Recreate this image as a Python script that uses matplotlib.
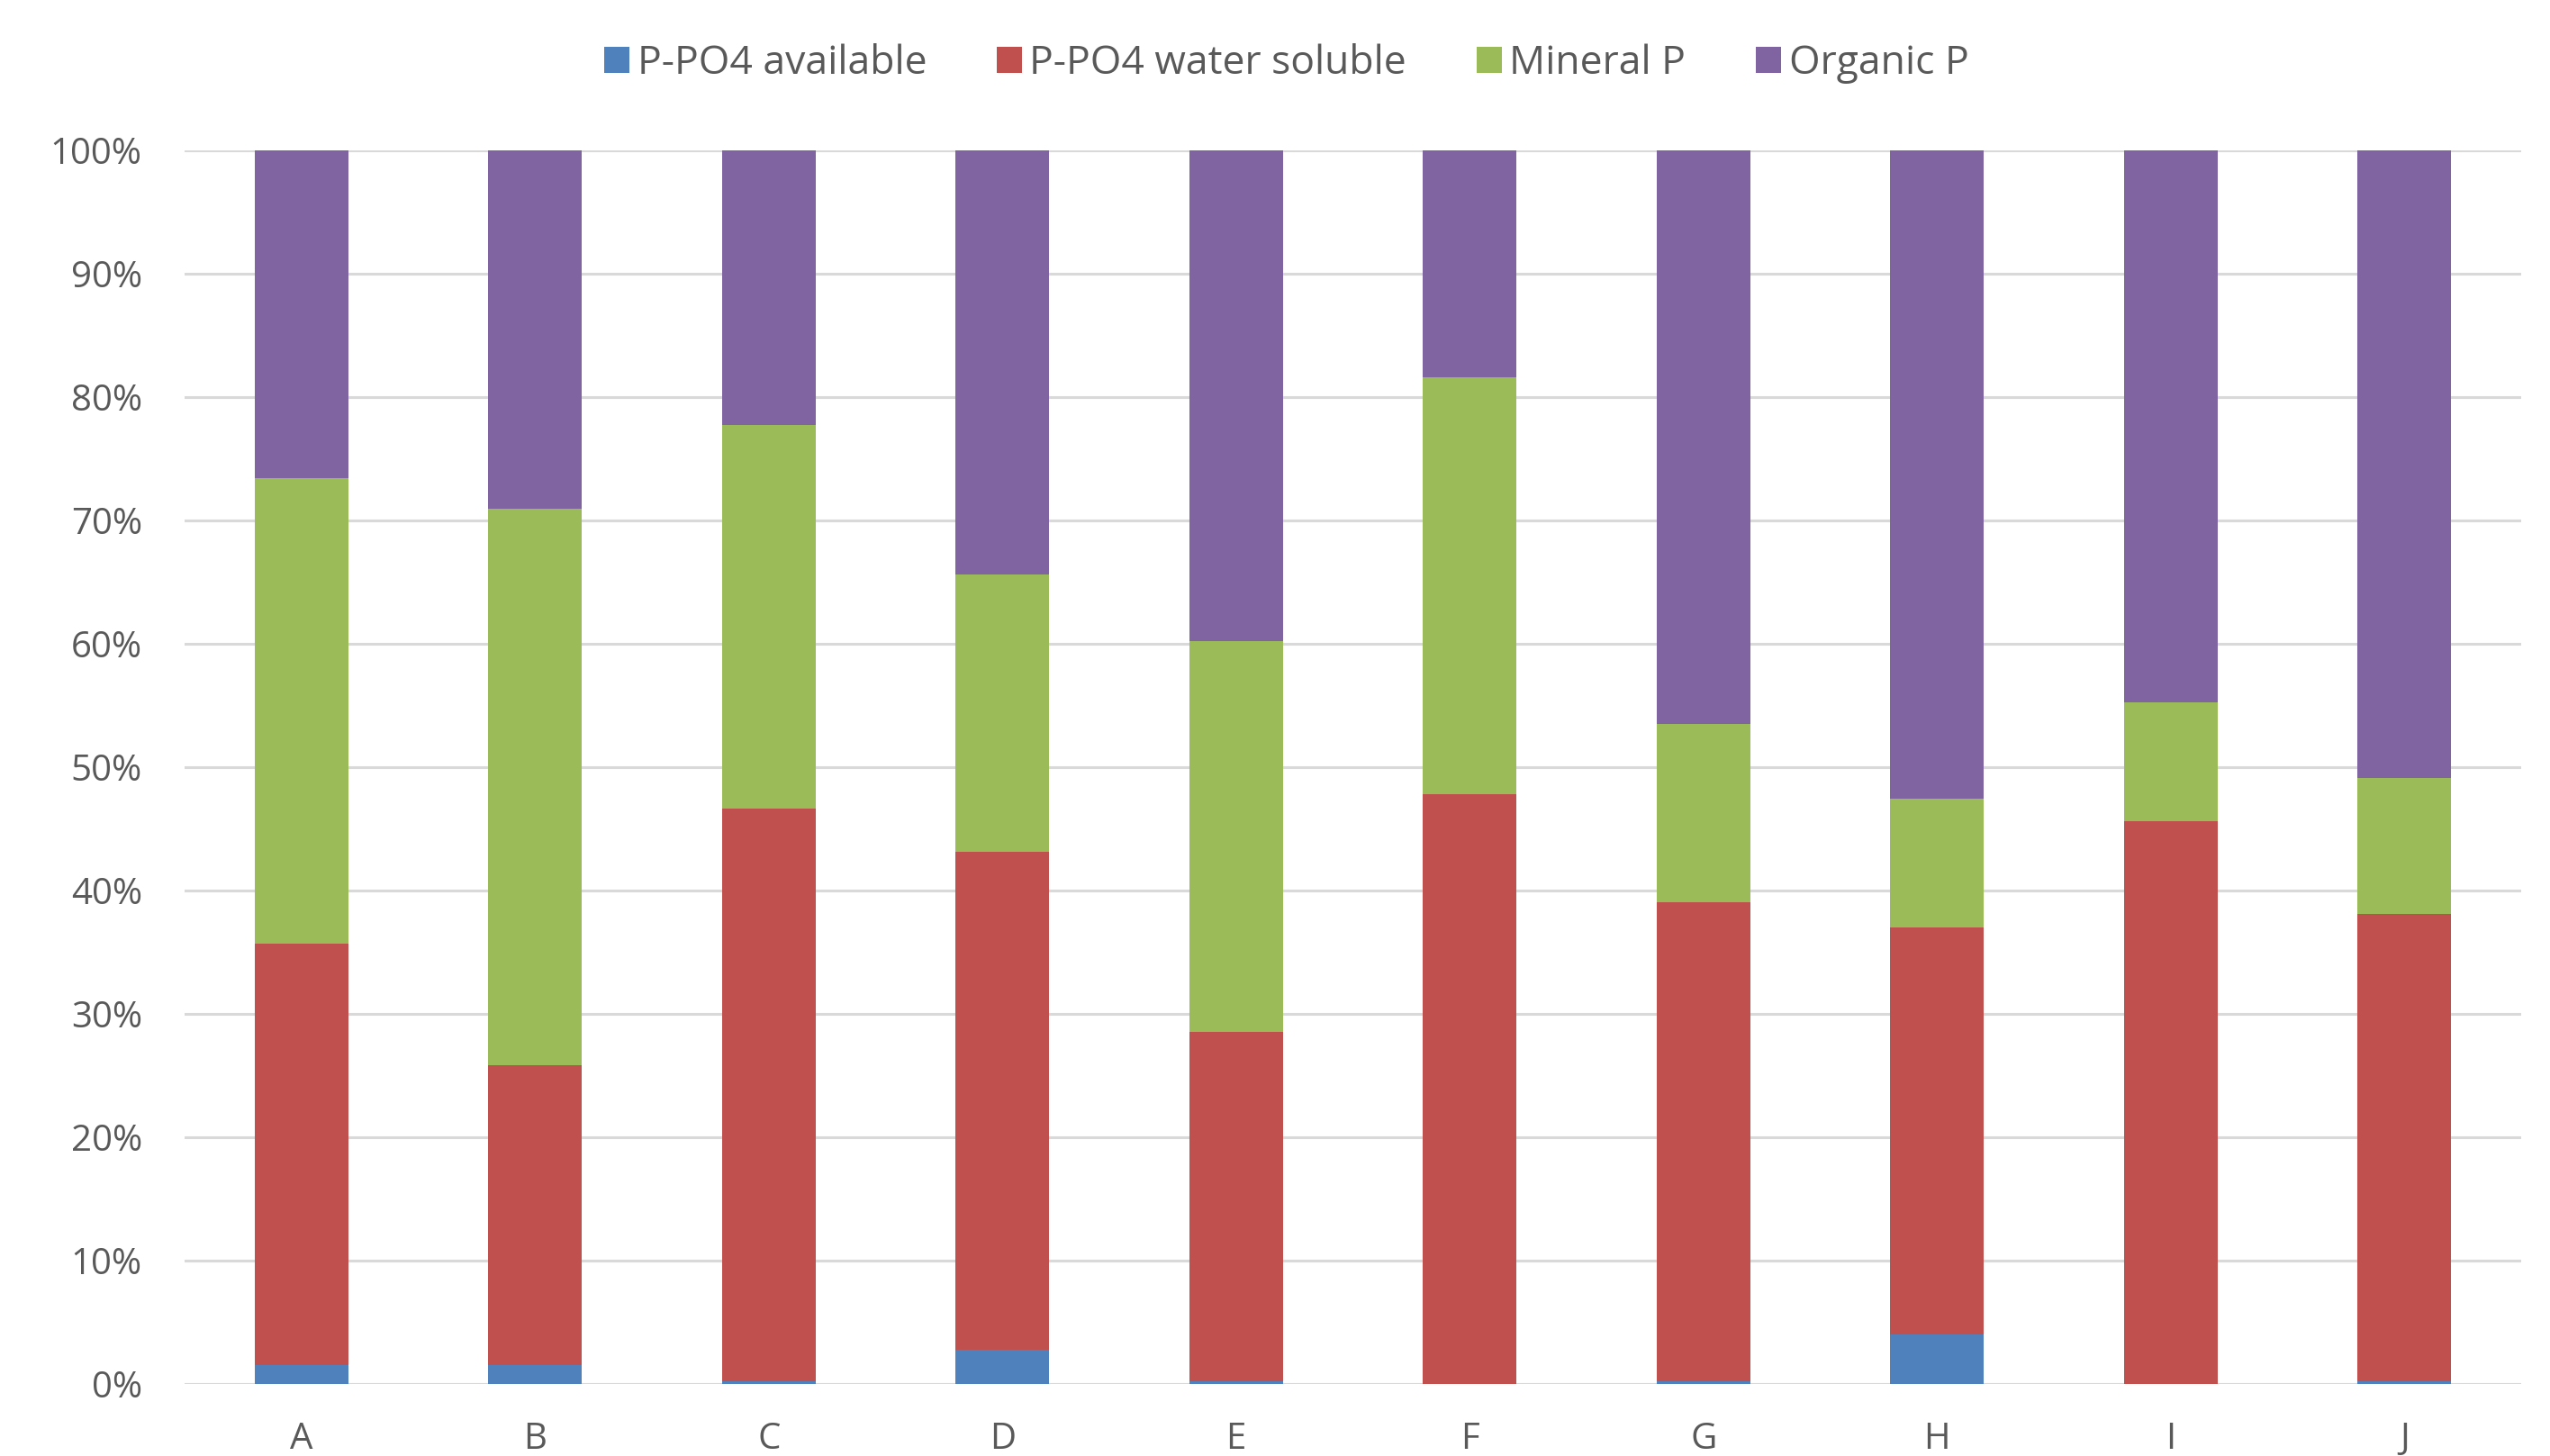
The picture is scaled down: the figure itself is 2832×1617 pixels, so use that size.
import numpy as np
import matplotlib
matplotlib.use("Agg")
import matplotlib.pyplot as plt
from matplotlib.ticker import PercentFormatter

# Phosphorus fractions per sample (% of total P)
samples = ["A", "B", "C", "D", "E", "F", "G", "H", "I", "J"]
p_available = [1.5, 1.5, 0.2, 2.8, 0.2, 0.0, 0.2, 4.0, 0.0, 0.2]
p_water_soluble = [34.2, 24.3, 46.4, 40.3, 28.3, 47.8, 38.8, 33.0, 45.6, 37.9]
mineral_p = [37.7, 45.1, 31.1, 22.5, 31.7, 33.8, 14.5, 10.4, 9.6, 11.0]
organic_p = [26.6, 29.1, 22.3, 34.4, 39.8, 18.4, 46.5, 52.6, 44.8, 50.9]

series = [
    ("P-PO4 available", p_available, "#4F81BD"),
    ("P-PO4 water soluble", p_water_soluble, "#C0504D"),
    ("Mineral P", mineral_p, "#9BBB59"),
    ("Organic P", organic_p, "#8064A2"),
]

plt.rcParams["font.family"] = ["Open Sans", "DejaVu Sans"]
text_color = "#595959"

fig = plt.figure(figsize=(28.32, 16.17), dpi=100)
ax = fig.add_axes([0.0724, 0.0495, 0.9163, 0.8475])

x = np.arange(len(samples))
bottom = np.zeros(len(samples))
for label, vals, color in series:
    vals = np.array(vals, dtype=float)
    ax.bar(x, vals, 0.4, bottom=bottom, color=color, label=label, zorder=3)
    bottom += vals

ax.set_xlim(-0.5, len(samples) - 0.5)
ax.set_ylim(0, 100)
ax.set_yticks(np.arange(0, 101, 10))
ax.yaxis.set_major_formatter(PercentFormatter(decimals=0))
ax.set_xticks(x)
ax.set_xticklabels(samples)
ax.tick_params(axis="both", length=0, labelsize=29, colors=text_color)
ax.tick_params(axis="x", pad=30)
ax.tick_params(axis="y", pad=34)

ax.grid(True, axis="y", color="#D9D9D9", linewidth=2.2, zorder=0)
for side in ["top", "right", "left", "bottom"]:
    ax.spines[side].set_visible(False)

fig.legend(loc="center", bbox_to_anchor=(0.5045, 0.956), ncol=4, frameon=False,
           fontsize=32, labelcolor=text_color, handlelength=0.62, handleheight=0.62,
           handletextpad=0.2, columnspacing=1.75)

fig.savefig("out.png", dpi=100)
